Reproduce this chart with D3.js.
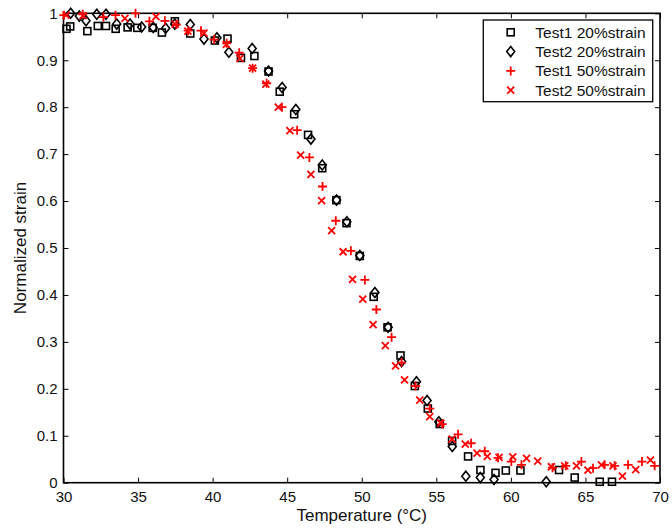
<!DOCTYPE html>
<html><head><meta charset="utf-8">
<script src="https://cdn.jsdelivr.net/npm/d3@7"></script>
<style>body{margin:0;background:#fff;}svg{display:block;font-family:"Liberation Sans",Arial,sans-serif;}</style>
</head><body><svg id="c" width="672" height="530"></svg>
<script>
const xTicks = [30,35,40,45,50,55,60,65,70];
const yTicks = [0,0.1,0.2,0.3,0.4,0.5,0.6,0.7,0.8,0.9,1];
const seriesNames = ["Test1 20%strain","Test2 20%strain","Test1 50%strain","Test2 50%strain"];
const test1_20 = [[30.2,0.967],[30.45,0.972],[31.6,0.962],[32.3,0.973],[32.85,0.973],[33.5,0.967],[34.3,0.97],[34.95,0.969],[35.98,0.969],[36.6,0.959],[37.47,0.983],[38.5,0.957],[40.15,0.942],[41.0,0.946],[41.9,0.905],[42.8,0.909],[43.75,0.876],[44.5,0.833],[45.47,0.785],[46.4,0.741],[47.35,0.67],[48.3,0.602],[48.98,0.553],[49.87,0.483],[50.8,0.396],[51.73,0.331],[52.6,0.271],[53.56,0.206],[54.43,0.158],[55.23,0.125],[56.06,0.089],[57.13,0.056],[57.96,0.027],[58.97,0.021],[59.66,0.026],[60.64,0.026],[63.23,0.027],[64.28,0.011],[65.96,0.002],[66.78,0.002]];
const test2_20 = [[30.48,1.0],[31.06,0.994],[31.51,0.984],[32.23,0.998],[32.85,0.998],[33.57,0.977],[34.46,0.977],[35.24,0.971],[36.02,0.970],[36.85,0.968],[37.47,0.977],[38.5,0.976],[39.42,0.945],[40.29,0.948],[41.09,0.917],[42.65,0.925],[43.75,0.877],[44.66,0.842],[45.58,0.795],[46.59,0.732],[47.35,0.677],[48.31,0.602],[49.0,0.556],[49.87,0.484],[50.88,0.405],[51.77,0.331],[52.67,0.258],[53.67,0.215],[54.38,0.175],[55.17,0.13],[56.07,0.077],[56.98,0.014],[57.95,0.011],[58.87,0.007],[62.37,0.002]];
const test1_50 = [[30.03,0.996],[31.29,0.998],[32.68,0.992],[33.49,0.996],[34.83,1.0],[35.76,0.983],[36.8,0.984],[37.57,0.976],[38.36,0.963],[39.22,0.963],[40.1,0.944],[40.94,0.936],[41.78,0.916],[42.68,0.883],[43.62,0.851],[44.65,0.8],[45.67,0.751],[46.49,0.693],[47.37,0.631],[48.26,0.558],[49.27,0.494],[50.21,0.432],[50.98,0.369],[52.0,0.31],[52.67,0.256],[53.61,0.206],[54.56,0.158],[55.4,0.125],[56.46,0.103],[57.33,0.084],[58.25,0.067],[59.14,0.053],[60.03,0.045],[60.71,0.038],[62.79,0.032],[63.68,0.036],[64.73,0.045],[65.51,0.031],[66.29,0.038],[66.96,0.036],[67.86,0.038],[68.79,0.045],[69.64,0.036]];
const test2_50 = [[30.17,0.996],[31.31,0.995],[34.12,0.989],[36.2,0.993],[37.49,0.977],[38.34,0.962],[39.42,0.958],[40.92,0.934],[41.83,0.904],[42.68,0.883],[43.57,0.849],[44.4,0.8],[45.18,0.75],[45.9,0.698],[46.59,0.657],[47.31,0.601],[47.98,0.537],[48.75,0.492],[49.38,0.433],[50.07,0.391],[50.76,0.337],[51.58,0.292],[52.27,0.249],[52.87,0.219],[53.89,0.176],[54.56,0.141],[55.3,0.127],[56.06,0.093],[56.94,0.082],[57.73,0.063],[58.42,0.056],[59.21,0.054],[60.13,0.055],[61.05,0.052],[61.8,0.046],[62.72,0.034],[63.61,0.036],[64.4,0.036],[65.17,0.027],[66.07,0.038],[66.85,0.036],[67.48,0.014],[68.37,0.028],[69.36,0.048]];

const L=63.5,R=660,T=13.3,B=482.7;
const svg=d3.select("#c");
const x=d3.scaleLinear().domain([30,70]).range([L,R]);
const y=d3.scaleLinear().domain([0,1]).range([B,T]);
const tl=5;

svg.append("rect").attr("x",L).attr("y",T).attr("width",R-L).attr("height",B-T).attr("fill","none").attr("stroke","#000").attr("stroke-width",1.6);

const fmt=d=>d===0?"0":(d===1?"1":d3.format(".1f")(d));
const gxB=svg.append("g").attr("transform",`translate(0,${B})`).call(d3.axisBottom(x).tickValues(xTicks).tickSize(-tl).tickFormat(d3.format("d")));
const gxT=svg.append("g").attr("transform",`translate(0,${T})`).call(d3.axisTop(x).tickValues(xTicks).tickSize(-tl).tickFormat(""));
const gyL=svg.append("g").attr("transform",`translate(${L},0)`).call(d3.axisLeft(y).tickValues(yTicks).tickSize(-tl).tickPadding(6).tickFormat(fmt));
const gyR=svg.append("g").attr("transform",`translate(${R},0)`).call(d3.axisRight(y).tickValues(yTicks).tickSize(-tl).tickFormat(""));
[gxB,gxT,gyL,gyR].forEach(g=>{g.select(".domain").remove();g.selectAll("line").attr("stroke","#000").attr("stroke-width",1);g.selectAll("text").attr("fill","#111").style("font-size","15px").style("font-family","'Liberation Sans',Arial,sans-serif");});
gxB.selectAll("text").attr("dy","0.71em").attr("y",9);

svg.append("text").attr("x",(L+R)/2).attr("y",521).attr("text-anchor","middle").style("font-size","17px").attr("fill","#111").text("Temperature (°C)");
svg.append("text").attr("transform",`translate(26,${(T+B)/2}) rotate(-90)`).attr("text-anchor","middle").style("font-size","17px").attr("fill","#111").text("Normalized strain");

function marker(g,type,cx,cy){
  if(type===0){g.append("rect").attr("x",cx-3.5).attr("y",cy-3.5).attr("width",7).attr("height",7).attr("fill","none").attr("stroke","#000").attr("stroke-width",1.6);}
  else if(type===1){g.append("path").attr("d",`M${cx},${cy-5}L${cx+4},${cy}L${cx},${cy+5}L${cx-4},${cy}Z`).attr("fill","none").attr("stroke","#000").attr("stroke-width",1.6);}
  else if(type===2){g.append("path").attr("d",`M${cx-4.5},${cy}H${cx+4.5}M${cx},${cy-4.5}V${cy+4.5}`).attr("stroke","#ff0000").attr("stroke-width",1.8);}
  else {g.append("path").attr("d",`M${cx-3.5},${cy-3.5}L${cx+3.5},${cy+3.5}M${cx-3.5},${cy+3.5}L${cx+3.5},${cy-3.5}`).attr("stroke","#ff0000").attr("stroke-width",1.8);}
}
const all=[test1_20,test2_20,test1_50,test2_50];
all.forEach((data,i)=>{
  const g=svg.append("g").attr("class","s"+i);
  data.forEach(d=>marker(g,i,x(d[0]),y(d[1])));
});

const lg=svg.append("g");
lg.append("rect").attr("x",483.3).attr("y",20).attr("width",169.4).attr("height",81.7).attr("fill","#fff").attr("stroke","#000").attr("stroke-width",1.3);
seriesNames.forEach((n,i)=>{
  const yy=32.3+i*19.3;
  marker(lg,i,510.7,yy);
  lg.append("text").attr("x",535.3).attr("y",yy).attr("dy","0.36em").style("font-size","15.5px").attr("fill","#111").text(n);
});
</script></body></html>
